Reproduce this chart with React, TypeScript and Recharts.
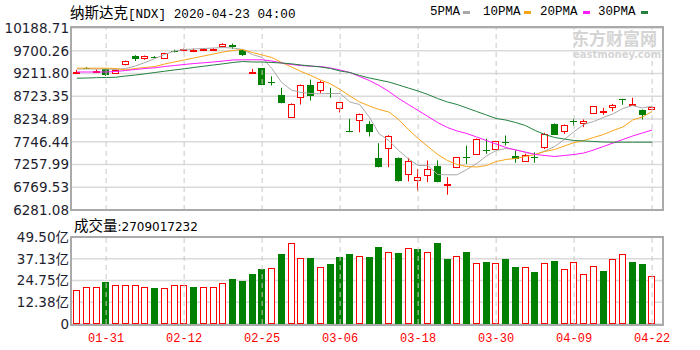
import React from 'react';
import { ComposedChart, Bar, Line, XAxis, YAxis, CartesianGrid, ReferenceLine } from 'recharts';

// trading days 2020-01-28 .. 2020-04-22
const dates = [
  '01-28', '01-29', '01-30', '01-31', '02-03', '02-04', '02-05', '02-06', '02-07', '02-10',
  '02-11', '02-12', '02-13', '02-14', '02-18', '02-19', '02-20', '02-21', '02-24', '02-25',
  '02-26', '02-27', '02-28', '03-02', '03-03', '03-04', '03-05', '03-06', '03-09', '03-10',
  '03-11', '03-12', '03-13', '03-16', '03-17', '03-18', '03-19', '03-20', '03-23', '03-24',
  '03-25', '03-26', '03-27', '03-30', '03-31', '04-01', '04-02', '04-03', '04-06', '04-07',
  '04-08', '04-09', '04-13', '04-14', '04-15', '04-16', '04-17', '04-20', '04-21', '04-22',
];

const opens = [
  9215, 9330, 9240, 9312, 9215, 9410, 9598, 9545, 9560, 9550,
  9705, 9715, 9705, 9720, 9715, 9800, 9815, 9710, 9215, 9320,
  9030, 8740, 8275, 8705, 8965, 8865, 8790, 8480, 7975, 8220,
  8130, 7400, 7620, 7400, 7045, 6935, 7025, 7235, 6835, 7205,
  7420, 7490, 7570, 7600, 7745, 7450, 7325, 7425, 7635, 8130,
  7970, 8185, 8150, 8370, 8395, 8500, 8665, 8545, 8435, 8455,
];
const highs = [
  9290, 9350, 9300, 9320, 9300, 9490, 9605, 9598, 9585, 9655,
  9725, 9745, 9745, 9755, 9755, 9862, 9855, 9720, 9310, 9330,
  9150, 8905, 8570, 8975, 9080, 9060, 8905, 8600, 8240, 8350,
  8190, 7715, 7890, 7410, 7400, 7165, 7345, 7345, 6985, 7420,
  7660, 7815, 7810, 7765, 7880, 7560, 7490, 7520, 7940, 8140,
  8115, 8240, 8225, 8515, 8475, 8560, 8670, 8690, 8440, 8515,
];
const lows = [
  9200, 9312, 9230, 9160, 9205, 9385, 9480, 9505, 9530, 9540,
  9665, 9690, 9675, 9700, 9700, 9795, 9740, 9590, 9210, 8960,
  8955, 8570, 8265, 8545, 8630, 8790, 8690, 8375, 7950, 7950,
  7860, 7195, 7200, 6890, 6895, 6700, 6880, 6875, 6610, 7180,
  7270, 7480, 7490, 7580, 7665, 7295, 7315, 7295, 7590, 7890,
  7915, 8095, 8060, 8360, 8325, 8400, 8540, 8540, 8225, 8430,
];
const closes = [
  9250, 9322, 9262, 9170, 9290, 9480, 9530, 9590, 9550, 9650,
  9690, 9730, 9725, 9740, 9745, 9835, 9780, 9600, 9235, 8975,
  9020, 8575, 8560, 8965, 8720, 9020, 8770, 8595, 7955, 8345,
  7955, 7200, 7880, 6900, 7340, 6985, 7165, 6880, 6845, 7415,
  7405, 7810, 7555, 7755, 7735, 7380, 7470, 7410, 7905, 7895,
  8110, 8175, 8185, 8510, 8405, 8525, 8650, 8560, 8330, 8500,
];

// volume in 亿 (1e8)
const volumes = [
  19.3, 20.9, 20.9, 24.1, 22.2, 22.2, 22.2, 20.9, 20.3, 20.3,
  22.2, 22.2, 20.9, 20.9, 20.9, 23.2, 25.4, 24.6, 28.3, 31.1,
  31.7, 39.8, 46.3, 37.4, 37.4, 32.3, 34.1, 38.3, 39.8, 38.9,
  38.3, 44.0, 41.1, 40.6, 43.1, 42.5, 41.1, 46.3, 36.8, 38.9,
  41.1, 34.5, 35.4, 34.5, 36.8, 32.6, 32.3, 29.6, 34.5, 36.0,
  31.1, 35.1, 28.3, 33.0, 30.3, 36.8, 39.8, 35.4, 34.0, 27.09,
];
// 1 = red (up) volume bar, 0 = green
const volUp = [
  1, 1, 1, 0, 1, 1, 1, 1, 0, 1,
  1, 1, 0, 1, 1, 1, 0, 0, 0, 0,
  1, 0, 1, 1, 0, 1, 0, 0, 0, 1,
  0, 0, 1, 0, 1, 0, 1, 0, 0, 1,
  0, 1, 0, 1, 0, 0, 1, 0, 1, 0,
  1, 1, 1, 1, 0, 1, 1, 0, 0, 1,
];

const ma5 = [
  9308, 9308, 9308, 9308, 9298, 9319, 9373, 9448, 9534, 9620,
  9695, 9727, 9738, 9748, 9759, 9770, 9759, 9727, 9620, 9555,
  9319, 9019, 8857, 8804, 8782, 8776, 8782, 8782, 8600, 8546,
  8273, 7917, 7773, 7559, 7380, 7236, 7236, 7043, 7037, 7037,
  7151, 7279, 7440, 7559, 7601, 7580, 7516, 7473, 7548, 7644,
  7795, 7966, 8117, 8181, 8267, 8346, 8460, 8525, 8471, 8510,
];
const ma10 = [
  9326, 9326, 9326, 9326, 9319, 9291, 9319, 9341, 9362, 9416,
  9459, 9502, 9545, 9587, 9630, 9673, 9706, 9727, 9663, 9609,
  9555, 9448, 9351, 9255, 9169, 9072, 8991, 8868, 8729, 8600,
  8514, 8439, 8385, 8224, 8009, 7816, 7645, 7473, 7344, 7258,
  7215, 7204, 7236, 7322, 7365, 7387, 7430, 7473, 7537, 7580,
  7655, 7730, 7773, 7838, 7902, 7988, 8063, 8213, 8278, 8396,
];
const ma20 = [
  9244, 9244, 9244, 9244, 9255, 9276, 9298, 9319, 9334, 9362,
  9383, 9405, 9426, 9441, 9459, 9480, 9502, 9506, 9506, 9506,
  9480, 9437, 9405, 9383, 9368, 9362, 9330, 9287, 9233, 9147,
  9061, 8954, 8825, 8675, 8546, 8417, 8289, 8160, 8052, 7977,
  7923, 7848, 7773, 7698, 7623, 7569, 7526, 7473, 7451, 7430,
  7451, 7473, 7505, 7569, 7644, 7720, 7795, 7870, 7934, 7999,
];
const ma30 = [
  9111, 9115, 9122, 9126, 9132, 9158, 9179, 9205, 9233, 9261,
  9287, 9313, 9341, 9368, 9394, 9420, 9448, 9469, 9459, 9459,
  9448, 9437, 9420, 9394, 9373, 9351, 9319, 9265, 9233, 9169,
  9115, 9072, 9029, 8965, 8900, 8836, 8761, 8675, 8600, 8546,
  8471, 8396, 8321, 8246, 8213, 8160, 8095, 7988, 7902, 7838,
  7805, 7773, 7763, 7752, 7741, 7737, 7737, 7737, 7737, 7737,
];

const priceTicks = [6281.08, 6769.53, 7257.99, 7746.44, 8234.89, 8723.35, 9211.8, 9700.26, 10188.71];
const volTicks = [0, 12.375, 24.75, 37.125, 49.5];
const dateTicks = ['01-31', '02-12', '02-25', '03-06', '03-18', '03-30', '04-09', '04-22'];

const maSeries = [
  { key: 'ma5', name: '5PMA', color: '#a8a8a8', tx: 430, sx: 463 },
  { key: 'ma10', name: '10PMA', color: '#f9a51a', tx: 483, sx: 524 },
  { key: 'ma20', name: '20PMA', color: '#ff1aff', tx: 540, sx: 583 },
  { key: 'ma30', name: '30PMA', color: '#23803f', tx: 598, sx: 641 },
];

const RED = '#ff0000';
const GREEN = '#008000';
const GRID = '#dadada';
const DASH = '#c8c8c8';
const AXIS_FONT = "'DejaVu Sans', 'Noto Sans CJK SC', sans-serif";
const MONO = "'Liberation Mono', 'DejaVu Sans Mono', monospace";
const CJK = "'Noto Sans CJK SC', sans-serif";

const rows = dates.map((date, i) => ({
  date,
  open: opens[i],
  high: highs[i],
  low: lows[i],
  close: closes[i],
  vol: volumes[i],
  volUp: volUp[i] === 1,
  ma5: ma5[i],
  ma10: ma10[i],
  ma20: ma20[i],
  ma30: ma30[i],
}));

const Candle = (props: any) => {
  const { x, y, width, height, payload } = props;
  if (!payload || x == null) return null;
  const { open, close, high, low } = payload;
  const top = Math.min(y, y + height);
  const k = Math.abs(height) / (high - low);
  const py = (v: number) => top + (high - v) * k;
  const cx = Math.floor(x + width / 2) + 0.5;
  const yHigh = py(high);
  const yLow = py(low);
  if (close >= open) {
    const t = Math.round(py(close)) + 0.5;
    const h = Math.max(Math.round(py(open)) + 0.5 - t, 1);
    return (
      <g>
        <line x1={cx} x2={cx} y1={yHigh} y2={t} stroke={RED} />
        <line x1={cx} x2={cx} y1={t + h} y2={yLow} stroke={RED} />
        <rect x={cx - 3} y={t} width={6} height={h} fill="#fff" stroke={RED} />
      </g>
    );
  }
  const t = Math.round(py(open));
  const h = Math.max(Math.round(py(close)) - t, 1);
  return (
    <g>
      <line x1={cx} x2={cx} y1={yHigh} y2={yLow} stroke={GREEN} />
      <rect x={cx - 3.5} y={t} width={7} height={h} fill={GREEN} />
    </g>
  );
};

const VolBar = (props: any) => {
  const { x, y, width, height, payload } = props;
  if (!payload || x == null) return null;
  const c = Math.floor(x + width / 2);
  const t = Math.round(y);
  const b = Math.round(y + height);
  if (payload.volUp) {
    return <rect x={c - 2.5} y={t + 0.5} width={6} height={Math.max(b - t - 1, 1)} fill="#fff" stroke={RED} />;
  }
  return <rect x={c - 3} y={t} width={7} height={b - t} fill={GREEN} />;
};

const fmtVol = (v: number) => (v === 0 ? '0' : `${v.toFixed(2)}亿`);

export default function App() {
  return (
    <div style={{ position: 'absolute', left: 0, top: 0, width: 700, height: 350, background: '#fff', overflow: 'hidden' }}>
      <div style={{ position: 'absolute', left: 0, top: 0 }}>
        <ComposedChart width={700} height={224} data={rows} margin={{ top: 28, right: 37, bottom: 14, left: 0 }}>
          <CartesianGrid vertical={false} stroke={GRID} strokeWidth={1.5} />
          <XAxis dataKey="date" hide padding={{ left: 0, right: 6 }} />
          <YAxis
            domain={[6281.08, 10188.71]}
            ticks={priceTicks}
            interval={0}
            type="number"
            allowDataOverflow
            width={72}
            axisLine={false}
            tickLine={false}
            tickSize={0}
            tickMargin={3}
            tickFormatter={(v: number) => v.toFixed(2)}
            tick={{ fontSize: 13.5, fill: '#1e1e30', fontFamily: AXIS_FONT }}
          />
          {dateTicks.map((d) => (
            <ReferenceLine key={d} x={d} stroke={DASH} strokeDasharray="5 4" />
          ))}
          <Bar dataKey={(d: any) => [d.low, d.high]} barSize={7} shape={<Candle />} isAnimationActive={false} />
          {maSeries.map((s) => (
            <Line
              key={s.key}
              dataKey={s.key}
              type="linear"
              stroke={s.color}
              strokeWidth={1}
              dot={false}
              activeDot={false}
              isAnimationActive={false}
            />
          ))}
        </ComposedChart>
      </div>

      <div style={{ position: 'absolute', left: 0, top: 215 }}>
        <ComposedChart width={700} height={135} data={rows} margin={{ top: 22, right: 37, bottom: 0, left: 0 }}>
          <CartesianGrid vertical={false} stroke={GRID} strokeWidth={1.5} />
          <XAxis
            dataKey="date"
            ticks={dateTicks}
            interval={0}
            height={26}
            padding={{ left: 0, right: 6 }}
            axisLine={false}
            tickLine={false}
            tickSize={0}
            tickMargin={9}
            tick={{ fontSize: 12, fill: RED, fontFamily: MONO }}
          />
          <YAxis
            domain={[0, 49.5]}
            ticks={volTicks}
            interval={0}
            type="number"
            allowDataOverflow
            width={72}
            axisLine={false}
            tickLine={false}
            tickSize={0}
            tickMargin={3}
            tickFormatter={fmtVol}
            tick={{ fontSize: 13.5, fill: '#1e1e30', fontFamily: AXIS_FONT }}
          />
          {dateTicks.map((d) => (
            <ReferenceLine key={d} x={d} stroke={DASH} strokeDasharray="5 4" />
          ))}
          <Bar dataKey="vol" barSize={7} shape={<VolBar />} isAnimationActive={false} />
        </ComposedChart>
      </div>

      {/* panel borders */}
      <div style={{ position: 'absolute', left: 70, top: 26, width: 594, height: 185, border: '2px solid #aaa', boxSizing: 'border-box', pointerEvents: 'none' }} />
      <div style={{ position: 'absolute', left: 70, top: 236, width: 594, height: 90, border: '2px solid #aaa', boxSizing: 'border-box', pointerEvents: 'none' }} />

      {/* watermark */}
      <div style={{ position: 'absolute', left: 572, top: 29, whiteSpace: 'nowrap', color: '#d4d4d4', fontFamily: CJK, fontWeight: 700, fontSize: 17, lineHeight: '18px' }}>东方财富网</div>
      <div style={{ position: 'absolute', left: 573, top: 49, whiteSpace: 'nowrap', color: '#d4d4d4', fontFamily: AXIS_FONT, fontWeight: 700, fontSize: 10, lineHeight: '11px' }}>eastmoney.com</div>

      {/* title */}
      <div style={{ position: 'absolute', left: 70, top: 2, whiteSpace: 'nowrap', color: '#000', lineHeight: '20px' }}>
        <span style={{ fontFamily: CJK, fontSize: 14.5 }}>纳斯达克</span>
        <span style={{ fontFamily: MONO, fontSize: 12.7 }}>[NDX] 2020-04-23 04:00</span>
      </div>

      {/* legend */}
      {maSeries.map((s) => (
        <React.Fragment key={s.key}>
          <div style={{ position: 'absolute', left: s.tx, top: 2, fontFamily: MONO, fontSize: 12.5, lineHeight: '20px', color: '#000', whiteSpace: 'nowrap' }}>{s.name}</div>
          <div style={{ position: 'absolute', left: s.sx, top: 11, width: 7, height: 3, background: s.color }} />
        </React.Fragment>
      ))}

      {/* volume title */}
      <div style={{ position: 'absolute', left: 74, top: 215, whiteSpace: 'nowrap', color: '#000', lineHeight: '20px' }}>
        <span style={{ fontFamily: CJK, fontSize: 14.5 }}>成交量</span>
        <span style={{ fontFamily: AXIS_FONT, fontSize: 12 }}>:2709017232</span>
      </div>
    </div>
  );
}
